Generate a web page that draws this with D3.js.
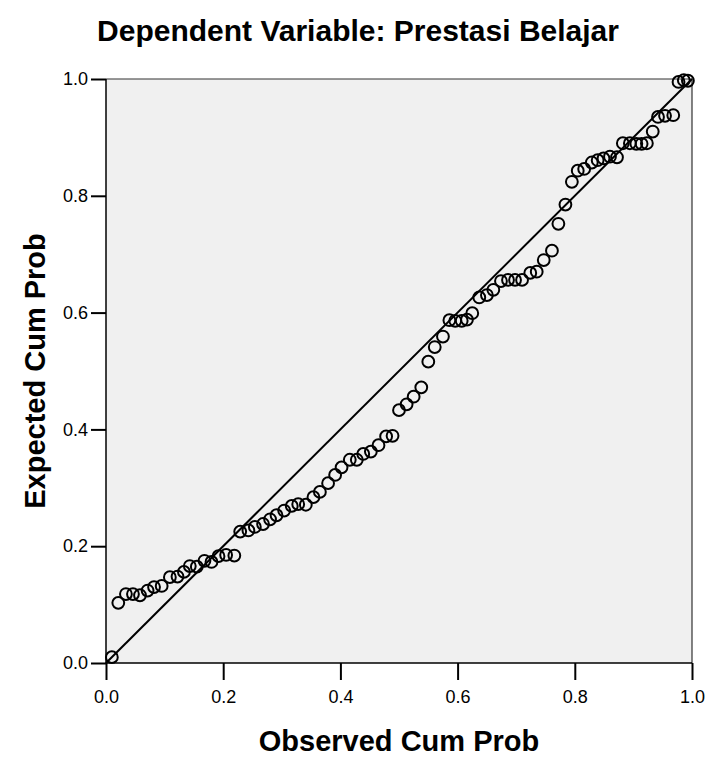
<!DOCTYPE html>
<html>
<head>
<meta charset="utf-8">
<script src="https://cdn.jsdelivr.net/npm/d3@7"></script>
<style>
  html, body { margin: 0; padding: 0; background: #ffffff; }
  svg { display: block; }
  text { font-family: "Liberation Sans", Arial, Helvetica, sans-serif; fill: #000; }
</style>
</head>
<body>
<svg id="chart" width="714" height="760"></svg>
<script>
const chartTitle = "Dependent Variable: Prestasi Belajar";
const xTitle = "Observed Cum Prob";
const yTitle = "Expected Cum Prob";
const tickValues = [0.0, 0.2, 0.4, 0.6, 0.8, 1.0];

const observedCumProb = [
  0.010, 0.021, 0.034, 0.046, 0.058, 0.071, 0.082, 0.095, 0.109, 0.122,
  0.133, 0.143, 0.155, 0.168, 0.180, 0.192, 0.205, 0.219, 0.229, 0.243,
  0.254, 0.268, 0.280, 0.291, 0.304, 0.317, 0.328, 0.341, 0.354, 0.365,
  0.379, 0.391, 0.402, 0.416, 0.428, 0.439, 0.452, 0.465, 0.478, 0.489,
  0.500, 0.513, 0.525, 0.538, 0.550, 0.561, 0.575, 0.586, 0.596, 0.607,
  0.616, 0.625, 0.637, 0.650, 0.661, 0.674, 0.686, 0.698, 0.710, 0.724,
  0.735, 0.747, 0.761, 0.772, 0.784, 0.795, 0.805, 0.816, 0.829, 0.839,
  0.849, 0.860, 0.872, 0.882, 0.894, 0.905, 0.914, 0.923, 0.933, 0.942,
  0.954, 0.968, 0.977, 0.986, 0.993
];
const expectedCumProb = [
  0.010, 0.103, 0.118, 0.118, 0.116, 0.124, 0.130, 0.132, 0.147, 0.148,
  0.156, 0.166, 0.165, 0.175, 0.173, 0.183, 0.185, 0.184, 0.225, 0.227,
  0.233, 0.238, 0.246, 0.253, 0.261, 0.269, 0.272, 0.271, 0.284, 0.293,
  0.308, 0.322, 0.335, 0.348, 0.348, 0.358, 0.362, 0.373, 0.388, 0.389,
  0.433, 0.443, 0.456, 0.472, 0.516, 0.541, 0.559, 0.587, 0.586, 0.586,
  0.588, 0.599, 0.626, 0.630, 0.639, 0.654, 0.656, 0.656, 0.656, 0.668,
  0.670, 0.690, 0.706, 0.752, 0.785, 0.824, 0.843, 0.846, 0.857, 0.861,
  0.864, 0.867, 0.866, 0.890, 0.890, 0.889, 0.889, 0.890, 0.910, 0.935,
  0.937, 0.938, 0.995, 0.998, 0.997
];

const svg = d3.select("#chart");
const pLeft = 106, pRight = 692, pTop = 79, pBottom = 663;

const x = d3.scaleLinear().domain([0, 1]).range([pLeft, pRight]);
const y = d3.scaleLinear().domain([0, 1]).range([pBottom, pTop]);

// plot background
svg.append("rect")
  .attr("x", pLeft).attr("y", pTop)
  .attr("width", pRight - pLeft).attr("height", pBottom - pTop)
  .attr("fill", "#f0f0f0");

// top & right frame
svg.append("path")
  .attr("d", `M${pLeft},${pTop}H${pRight}V${pBottom}`)
  .attr("fill", "none").attr("stroke", "#333").attr("stroke-width", 1.2);

// reference diagonal
svg.append("line")
  .attr("x1", x(0)).attr("y1", y(0))
  .attr("x2", x(1)).attr("y2", y(1))
  .attr("stroke", "#000").attr("stroke-width", 2);

// points
svg.append("g").selectAll("circle")
  .data(observedCumProb.map((v, i) => [v, expectedCumProb[i]]))
  .join("circle")
  .attr("cx", d => x(d[0]))
  .attr("cy", d => y(d[1]))
  .attr("r", 5.9)
  .attr("fill", "none")
  .attr("stroke", "#000")
  .attr("stroke-width", 2);

// axes
const xAxis = d3.axisBottom(x).tickValues(tickValues).tickFormat(d3.format(".1f"))
  .tickSize(17).tickPadding(10);
const yAxis = d3.axisLeft(y).tickValues(tickValues).tickFormat(d3.format(".1f"))
  .tickSize(15).tickPadding(3);

const gx = svg.append("g").attr("transform", `translate(0,${pBottom})`).call(xAxis);
const gy = svg.append("g").attr("transform", `translate(${pLeft},0)`).call(yAxis);

[gx, gy].forEach(g => {
  g.select(".domain").attr("stroke", "#000").attr("stroke-width", 1.5);
  g.selectAll(".tick line").attr("stroke", "#000").attr("stroke-width", 2);
  g.selectAll(".tick text")
    .attr("font-family", "'Liberation Sans', Arial, sans-serif")
    .attr("font-size", 18).attr("fill", "#000");
});
gx.select(".domain").attr("d", `M${pLeft},0H${pRight}`);
gy.select(".domain").attr("d", `M0,${pBottom}V${pTop}`);

// titles
svg.append("text")
  .attr("x", 358).attr("y", 41)
  .attr("text-anchor", "middle")
  .attr("font-size", 30).attr("font-weight", "bold")
  .text(chartTitle);

svg.append("text")
  .attr("x", 399).attr("y", 751)
  .attr("text-anchor", "middle")
  .attr("font-size", 29).attr("font-weight", "bold")
  .text(xTitle);

svg.append("text")
  .attr("transform", `translate(45,${(pTop + pBottom) / 2}) rotate(-90)`)
  .attr("text-anchor", "middle")
  .attr("font-size", 29).attr("font-weight", "bold")
  .text(yTitle);
</script>
</body>
</html>
